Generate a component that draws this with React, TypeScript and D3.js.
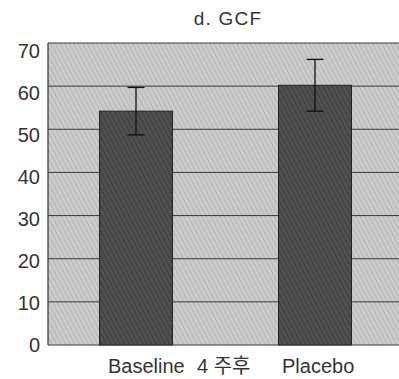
import React from "react";
import * as d3 from "d3";

const categories = ["Baseline 4 주후", "Placebo"];
const means = [54.2, 60.2];
const errors = [5.5, 6.0];
const yTicks = [0, 10, 20, 30, 40, 50, 60, 70];
const title = "d. GCF";

export default function App() {
  const W = 399, H = 379;
  const left = 48, right = 412, top = 43, bottom = 345;
  const y = d3.scaleLinear().domain([0, 70]).range([bottom, top]);
  const yLabel = d3.scaleLinear().domain([0, 70]).range([345, 51]);
  const barCenters = [136, 315];
  const barW = 73;
  const labelX = [108, 282];
  const font = "'Liberation Sans', Arial, sans-serif";
  const renderLabel = (c: string, i: number) => {
    const words = c.split(" ");
    if (words.length === 1) return c;
    return (
      <>
        <tspan x={labelX[i]}>{words[0]}</tspan>
        <tspan x={labelX[i] + 89}>{words.slice(1).join(" ")}</tspan>
      </>
    );
  };
  return (
    <svg width={W} height={H} style={{ position: "absolute", left: 0, top: 0, background: "#fff" }}>
      <defs>
        <pattern id="bgHatch" width="4" height="4" patternUnits="userSpaceOnUse" patternTransform="rotate(-28)">
          <rect width="4" height="4" fill="#cbcbcb" />
          <line x1="0" y1="0" x2="0" y2="4" stroke="#a6a6a6" strokeWidth="1.2" />
        </pattern>
        <pattern id="barHatch" width="4" height="4" patternUnits="userSpaceOnUse" patternTransform="rotate(-28)">
          <rect width="4" height="4" fill="#505050" />
          <line x1="0" y1="0" x2="0" y2="4" stroke="#343434" strokeWidth="1.3" />
        </pattern>
      </defs>
      <text x={228} y={25} textAnchor="middle" fontFamily={font} fontSize={19} letterSpacing={1.2} fill="#333">{title}</text>
      <rect x={left} y={top} width={right - left} height={bottom - top} fill="url(#bgHatch)" />
      {yTicks.map((t) => (
        <g key={t}>
          <line x1={left} x2={right} y1={y(t)} y2={y(t)} stroke="#3a3a3a" strokeWidth={1} />
          <text x={40} y={yLabel(t)} dy="0.36em" textAnchor="end" fontFamily={font} fontSize={20} fill="#333">{t}</text>
        </g>
      ))}
      <line x1={left} x2={left} y1={top} y2={bottom} stroke="#333" strokeWidth={1.2} />
      {means.map((m, i) => (
        <g key={i}>
          <rect x={barCenters[i] - barW / 2} y={y(m)} width={barW} height={bottom - y(m)} fill="url(#barHatch)" stroke="#222" strokeWidth={1} />
          <line x1={barCenters[i]} x2={barCenters[i]} y1={y(m + errors[i])} y2={y(m - errors[i])} stroke="#111" strokeWidth={1.3} />
          <line x1={barCenters[i] - 8.5} x2={barCenters[i] + 8.5} y1={y(m + errors[i])} y2={y(m + errors[i])} stroke="#111" strokeWidth={1.3} />
          <line x1={barCenters[i] - 8.5} x2={barCenters[i] + 8.5} y1={y(m - errors[i])} y2={y(m - errors[i])} stroke="#111" strokeWidth={1.3} />
        </g>
      ))}
      {categories.map((c, i) => (
        <text key={c} x={labelX[i]} y={373} textAnchor="start" fontFamily={`${font}, 'Noto Sans CJK KR'`} fontSize={20} fill="#333">{renderLabel(c, i)}</text>
      ))}
    </svg>
  );
}
